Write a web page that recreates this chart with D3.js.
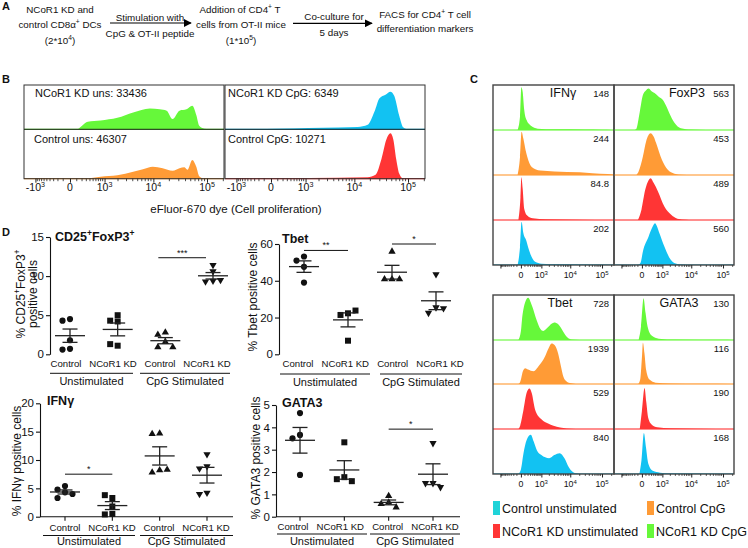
<!DOCTYPE html>
<html>
<head>
<meta charset="utf-8">
<script src="https://cdn.jsdelivr.net/npm/d3@7/dist/d3.min.js"></script>
<style>
html,body{margin:0;padding:0;background:#fff;}
svg{display:block;}
</style>
</head>
<body>
<script>
// ================= DATA =================
// Panel B : proliferation histograms, [eFluor-670 intensity, % of row height]
const bLabels = ["NCoR1 KD uns: 33436", "Control uns: 46307", "NCoR1 KD CpG: 6349", "Control CpG: 10271"];
const bNcorUns = [[120,0],[200,8],[337,17],[797,20],[1935,26],[4070,38],[8590,47],[13200,45],[17800,42],[23000,23],[30900,42],[41700,45],[53300,53],[63300,32],[71700,8],[88600,1.5],[135000,0]];
const bCtrlUns = [[285,0],[797,4],[1935,7],[4070,14],[6330,19],[9760,24],[14970,21],[23000,16],[30900,21],[38200,23],[43300,18],[53300,38],[63300,24],[71700,5],[88600,0]];
const bNcorCpG = [[-311,0],[119,1],[1170,3],[4860,4],[11600,5],[17800,10],[23900,40],[29600,70],[38200,78],[47200,85],[55800,75],[69000,30],[80800,5],[96000,0]];
const bCtrlCpG = [[-311,0],[119,1],[4860,2],[17800,3],[25000,8],[32200,40],[39900,80],[47200,92],[53300,80],[60400,40],[69000,10],[80800,0]];
const bTickValues = [-1000, 0, 1000, 10000, 100000];
const bTickLabels = [["-10", ["3"]], ["0"], ["10", ["3"]], ["10", ["4"]], ["10", ["5"]]];

// Panel C : marker histograms, rows top->bottom
const cRowNames = ["NCoR1 KD CpG", "Control CpG", "NCoR1 KD unstimulated", "Control unstimulated"];
const cMarkers = ["IFNγ", "FoxP3", "Tbet", "GATA3"];
const ifngMFI  = ["148", "244", "84.8", "202"];
const foxp3MFI = ["563", "453", "489", "560"];
const tbetMFI  = ["728", "1939", "529", "840"];
const gata3MFI = ["130", "116", "190", "168"];

const ifngGreen  = [[-80,0],[-20,30],[10,95],[40,85],[80,45],[150,22],[300,10],[700,3],[3000,1.5],[30000,1],[100000,0.5],[200000,0]];
const ifngOrange = [[-80,0],[-20,40],[15,96],[60,80],[120,55],[170,41],[350,18],[900,10],[3000,8],[20000,6],[50000,4],[150000,2],[220000,1]];
const ifngRed    = [[-60,0],[-10,50],[10,95],[40,70],[80,25],[170,10],[400,4],[1500,1.5],[20000,0.5],[200000,0]];
const ifngBlue   = [[-80,0],[-20,40],[15,96],[60,70],[137,55],[200,40],[280,26],[530,7],[1000,3],[5000,1.5],[50000,0.5],[200000,0]];

const foxGreen  = [[-200,0],[-150,2],[-50,40],[22,78],[100,88],[182,92],[300,86],[442,82],[700,74],[1030,67],[1500,50],[1830,38],[2790,16],[4560,4],[10000,1],[30000,0]];
const foxOrange = [[-150,0],[-80,8],[22,41],[107,75],[257,93],[400,85],[530,71],[956,34],[1590,12],[2790,3],[5000,0.5],[10000,0]];
const foxRed    = [[-100,0],[-10,23],[80,67],[180,88],[257,93],[400,82],[640,64],[1200,30],[2100,12],[3500,3],[7000,0.5],[10000,0]];
const foxBlue   = [[-100,0],[-30,5],[22,30],[182,63],[355,86],[470,93],[560,88],[760,70],[1200,41],[2100,11],[3500,2],[7000,0]];

const tbetGreen  = [[-60,0],[0,20],[22,43],[100,82],[204,94],[350,78],[640,43],[900,25],[1190,20],[1700,27],[2400,36],[3100,39],[4200,34],[6000,18],[8000,6],[11000,1],[20000,0]];
const tbetOrange = [[-60,0],[-15,5],[50,30],[107,36],[200,33],[437,29],[800,42],[1370,62],[1900,82],[2400,92],[3100,88],[4000,70],[5000,40],[5970,17],[7500,6],[9630,2],[15000,0]];
const tbetRed    = [[-60,0],[-15,8],[61,43],[150,80],[252,90],[350,80],[530,43],[1030,21],[1800,12],[2790,7],[7700,1],[15000,0]];
const tbetBlue   = [[-60,0],[0,10],[61,46],[150,75],[311,87],[450,72],[640,53],[1000,42],[1970,35],[3000,42],[4540,46],[6500,35],[9000,15],[13800,2],[20000,0]];

const gataGreen  = [[-80,0],[-20,30],[38,93],[90,60],[150,30],[300,10],[700,3],[3000,1],[100000,0.3],[200000,0]];
const gataOrange = [[-90,0],[-40,10],[0,60],[22,94],[60,70],[107,32],[218,10],[500,3],[2000,1],[20000,0.3],[200000,0]];
const gataRed    = [[-50,0],[0,40],[63,91],[110,60],[170,25],[300,10],[600,4],[2000,1.5],[20000,0.5],[200000,0]];
const gataBlue   = [[-60,0],[-10,30],[46,91],[100,60],[170,24],[355,7],[800,3],[3000,1],[200000,0]];

const cTickValues = [0, 1000, 10000, 100000];
const cTickLabels = [["0"], ["10", ["3"]], ["10", ["4"]], ["10", ["5"]]];
const legendNames = ["Control unstimulated", "Control CpG", "NCoR1 KD unstimulated", "NCoR1 KD CpG"];

// Panel D : % positive cells, groups = Control/NCoR1 KD unstimulated, Control/NCoR1 KD CpG
const dGroups = ["Control", "NCoR1 KD", "Control", "NCoR1 KD"];
const dConditions = ["Unstimulated", "CpG Stimulated"];
const cd25Values = [[4.5,4.3,1.8,0.7,0.6],[5.0,4.3,4.2,1.1,1.3],[2.8,2.5,1.6,0.9,0.9],[11.4,10.6,9.4,9.3,9.5]];
const tbetValues = [[53.2,51,47.6,39],[22.3,21.4,23.8,7.4],[55.9,40.9,40.9,40.9],[43.5,25.5,22.5,25]];
const ifngValues = [[5.4,4.8,4.3,4.0,3.3],[3.3,3.8,1.8,0.5,0.4],[14.7,14.6,8.2,7.8,8.3],[11,8.9,8.5,4.2,4.0]];
const gata3Values = [[4.64,3.66,3.51,1.87],[3.33,1.77,1.68,1.59],[0.93,0.64,0.57,0.42],[3.29,1.5,1.5,1.32]];
const cd25Sig = [{a:2, b:3, v:12.35, s:"***"}];
const tbetSig = [{a:0, b:1, v:56.5, s:"**"}, {a:2, b:3, v:60, s:"*"}];
const ifngSig = [{a:0, b:1, v:7.5, s:"*"}];
const gata3Sig = [{a:2, b:3, v:3.92, s:"*"}];

// ================= STYLE =================
const FONT = "'Liberation Sans', Arial, Helvetica, sans-serif";
const GREEN = "#66f83a", ORANGE = "#ff9b36", RED = "#ff3535", BLUE = "#12c2f2", CYAN = "#1fd3d8";
const INK = "#111";

const svg = d3.select("body").append("svg")
  .attr("width", 748).attr("height", 548)
  .style("font-family", FONT);
const defs = svg.append("defs");

function rich(parent, parts, size, attrs) {
  const t = parent.append("text").attr("font-size", size + "px").attr("fill", INK);
  for (const k in attrs) t.attr(k, attrs[k]);
  let up = false;
  parts.forEach(p => {
    const isSup = typeof p !== "string";
    const str = isSup ? p[0] : p;
    const ts = t.append("tspan").text(str);
    if (isSup) {
      ts.attr("font-size", (size * 0.68) + "px");
      if (!up) { ts.attr("dy", -size * 0.4); up = true; }
    } else if (up) { ts.attr("dy", size * 0.4); up = false; }
  });
  return t;
}

// ================= PANEL A =================
const gA = svg.append("g");
rich(gA, ["A"], 11, {x: 2, y: 10, "font-weight": "bold"});
defs.append("marker").attr("id", "arr").attr("viewBox", "0 0 10 10")
  .attr("refX", 9).attr("refY", 5).attr("markerWidth", 8).attr("markerHeight", 8)
  .attr("markerUnits", "userSpaceOnUse").attr("orient", "auto")
  .append("path").attr("d", "M0,0L10,5L0,10Z").attr("fill", "#000");
const aFs = 9.8;
const aTexts = [
  [60, 13.3, ["NCoR1 KD and"]],
  [60, 28.3, ["control CD8α", ["+"], " DCs"]],
  [60, 44, ["(2*10", ["4"], ")"]],
  [150, 20.5, ["Stimulation with"]],
  [150, 36.5, ["CpG & OT-II peptide"]],
  [240, 12.7, ["Addition of CD4", ["+"], " T"]],
  [241, 28.3, ["cells from OT-II mice"]],
  [241, 44, ["(1*10", ["5"], ")"]],
  [334, 20, ["Co-culture for"]],
  [334, 36, ["5 days"]],
  [425, 17.7, ["FACS for CD4", ["+"], " T cell"]],
  [425, 31.7, ["differentiation markers"]]
];
aTexts.forEach(d => rich(gA, d[2], aFs, {x: d[0], y: d[1], "text-anchor": "middle"}));
[[110, 191, 23], [293, 372, 23.3]].forEach(a => {
  gA.append("line").attr("x1", a[0]).attr("x2", a[1]).attr("y1", a[2]).attr("y2", a[2])
    .attr("stroke", "#000").attr("stroke-width", 1.2).attr("marker-end", "url(#arr)");
});

// ================= PANEL B =================
const gB = svg.append("g");
rich(gB, ["B"], 11, {x: 2, y: 83, "font-weight": "bold"});
const bx = d3.scaleSymlog().constant(300).domain([-1810, 205800]).range([0, 200]);
const bBoxes = [{x: 24, top: bNcorUns, bot: bCtrlUns, tc: GREEN, bc: ORANGE, tl: bLabels[0], bl: bLabels[1]},
                {x: 225, top: bNcorCpG, bot: bCtrlCpG, tc: BLUE, bc: RED, tl: bLabels[2], bl: bLabels[3]}];
const bRows = [[85, 129.3], [129.3, 178.7]];
const bMinor = [].concat(
  d3.range(-900, 0, 100), d3.range(100, 1000, 100),
  d3.range(2000, 10000, 1000), d3.range(20000, 100000, 10000), [200000]);

function histArea(xs, r0, r1) {
  return d3.area().curve(d3.curveMonotoneX)
    .x(d => xs(d[0])).y0(r1).y1(d => r1 - d[1] / 100 * (r1 - r0));
}

bBoxes.forEach((bb, i) => {
  const g = gB.append("g").attr("transform", `translate(${bb.x},0)`);
  [[bb.top, bb.tc, bRows[0]], [bb.bot, bb.bc, bRows[1]]].forEach(h => {
    g.append("path").datum(h[0]).attr("d", histArea(bx, h[2][0], h[2][1])).attr("fill", h[1]);
    g.append("line").attr("x1", 0).attr("x2", 200).attr("y1", h[2][1]).attr("y2", h[2][1])
      .attr("stroke", h[1]).attr("stroke-width", 1.2);
  });
  g.append("rect").attr("x", 0).attr("y", 85).attr("width", 200).attr("height", 93.7)
    .attr("fill", "none").attr("stroke", "#333").attr("stroke-width", 1);
  g.append("line").attr("x1", 0).attr("x2", 200).attr("y1", 129.3).attr("y2", 129.3)
    .attr("stroke", "#222").attr("stroke-width", 1);
  const ax = g.append("g").attr("transform", "translate(0,178.7)");
  ax.call(d3.axisBottom(bx).tickValues(bTickValues).tickSize(4).tickSizeOuter(0).tickFormat(""));
  ax.select(".domain").remove();
  ax.selectAll(".tick line").attr("stroke", "#222");
  ax.selectAll(".minor").data(bMinor).join("line").attr("class", "minor")
    .attr("x1", d => bx(d)).attr("x2", d => bx(d)).attr("y1", 0).attr("y2", 2.5)
    .attr("stroke", "#222").attr("stroke-width", 0.8);
  bTickValues.forEach((v, k) => {
    rich(g, bTickLabels[k], 10.5, {x: bx(v), y: 191, "text-anchor": "middle"});
  });
  rich(g, [bb.tl], 11, {x: 11 + (i ? -8 : 0), y: 96.7});
  rich(g, [bb.bl], 11, {x: 10 + (i ? -7 : 0), y: 142.7});
});
rich(gB, ["eFluor-670 dye (Cell proliferation)"], 11.5, {x: 236, y: 213, "text-anchor": "middle"});

// ================= PANEL C =================
const gC = svg.append("g");
rich(gC, ["C"], 11, {x: 470, y: 83, "font-weight": "bold"});
const cx = d3.scaleSymlog().constant(300).domain([-1917, 220000]).range([0, 120]);
const rowColors = [GREEN, ORANGE, RED, BLUE];
const cBlocks = [
  {rows: [85, 130, 175, 220, 265], cols: [
    {x: 493, w: 121, name: cMarkers[0], mfi: ifngMFI, hists: [ifngGreen, ifngOrange, ifngRed, ifngBlue], tx: 70},
    {x: 614, w: 120, name: cMarkers[1], mfi: foxp3MFI, hists: [foxGreen, foxOrange, foxRed, foxBlue], tx: 73}]},
  {rows: [295, 340, 384, 429, 474], cols: [
    {x: 493, w: 121, name: cMarkers[2], mfi: tbetMFI, hists: [tbetGreen, tbetOrange, tbetRed, tbetBlue], tx: 67},
    {x: 614, w: 120, name: cMarkers[3], mfi: gata3MFI, hists: [gataGreen, gataOrange, gataRed, gataBlue], tx: 65}]}
];
let clipN = 0;
cBlocks.forEach(block => {
  const R = block.rows;
  block.cols.forEach(col => {
    const g = gC.append("g").attr("transform", `translate(${col.x},0)`);
    const cid = "cclip" + (clipN++);
    defs.append("clipPath").attr("id", cid).append("rect")
      .attr("x", 0).attr("y", R[0]).attr("width", col.w).attr("height", R[4] - R[0]);
    const hg = g.append("g").attr("clip-path", `url(#${cid})`);
    col.hists.forEach((h, r) => {
      hg.append("path").datum(h).attr("d", histArea(cx, R[r], R[r + 1])).attr("fill", rowColors[r]);
      hg.append("line").attr("x1", 0).attr("x2", col.w).attr("y1", R[r + 1]).attr("y2", R[r + 1])
        .attr("stroke", rowColors[r]).attr("stroke-opacity", 0.75).attr("stroke-width", 1.3);
    });
    g.append("rect").attr("x", 0).attr("y", R[0]).attr("width", col.w).attr("height", R[4] - R[0])
      .attr("fill", "none").attr("stroke", "#444").attr("stroke-width", 1.4);
    rich(g, [col.name], 12.5, {x: col.tx, y: R[0] + 12, "text-anchor": "middle"});
    col.mfi.forEach((m, r) => rich(g, [m], 9.5, {x: col.w - 5, y: R[r] + 11.5, "text-anchor": "end"}));
    const ax = g.append("g").attr("transform", `translate(0,${R[4]})`);
    ax.call(d3.axisBottom(cx).tickValues([-1000].concat(cTickValues)).tickSize(3.5).tickSizeOuter(0).tickFormat(""));
    ax.select(".domain").remove();
    ax.selectAll(".tick line").attr("stroke", "#222");
    ax.selectAll(".minor").data(bMinor).join("line").attr("class", "minor")
      .attr("x1", d => cx(d)).attr("x2", d => cx(d)).attr("y1", 0).attr("y2", 2)
      .attr("stroke", "#222").attr("stroke-width", 0.7);
    cTickValues.forEach((v, k) => rich(g, cTickLabels[k], 8.8, {x: cx(v), y: R[4] + 13.3, "text-anchor": "middle"}));
  });
});
// legend
const legendColors = [CYAN, ORANGE, RED, GREEN];
const legendPos = [[493, 501], [647, 501], [493, 524], [647, 524]];
legendNames.forEach((n, i) => {
  gC.append("rect").attr("x", legendPos[i][0]).attr("y", legendPos[i][1]).attr("width", 7).attr("height", 14)
    .attr("fill", legendColors[i]);
  rich(gC, [n], 12.5, {x: legendPos[i][0] + 9, y: legendPos[i][1] + 12});
});

// ================= PANEL D =================
const gD = svg.append("g");
rich(gD, ["D"], 11, {x: 2, y: 236, "font-weight": "bold"});
const symbolTypes = [
  d3.symbol(d3.symbolCircle, 30)(),
  d3.symbol(d3.symbolSquare, 36)(),
  d3.symbol(d3.symbolTriangle, 23)(),
  d3.symbol(d3.symbolTriangle, 23)()
];

function beeswarm(vals, y, step) {
  const placed = [];
  return vals.map(v => {
    const py = y(v);
    const offs = [0, -step, step, -2 * step, 2 * step];
    let off = 0;
    for (const o of offs) {
      if (!placed.some(p => Math.abs(p.y - py) < 6 && Math.abs(p.x - o) < 6)) { off = o; break; }
    }
    placed.push({x: off, y: py});
    return off;
  });
}

function scatterPanel(cfg) {
  const g = gD.append("g");
  const y = d3.scaleLinear().domain([0, cfg.ymax]).range([cfg.y0, cfg.yTop]);
  const x = d3.scalePoint().domain(d3.range(4)).range(cfg.xr);
  const xl = d3.scalePoint().domain(d3.range(4)).range(cfg.labR);
  cfg.ylab.forEach((line, k) => {
    rich(g, line, 12, {transform: `translate(${cfg.ylabX[k]},${cfg.ylabY}) rotate(-90)`, "text-anchor": "middle"});
  });
  const ax = g.append("g").attr("transform", `translate(${cfg.ax},0)`)
    .call(d3.axisLeft(y).tickValues(cfg.ticks).tickSize(4).tickSizeOuter(0).tickPadding(2).tickFormat(d3.format("d")));
  ax.select(".domain").attr("stroke", INK).attr("stroke-width", 1.1);
  ax.selectAll(".tick line").attr("stroke", INK).attr("stroke-width", 1.1);
  ax.selectAll("text").attr("font-size", "11.5px").attr("fill", INK).style("font-family", FONT);
  if (cfg.xAxis) {
    g.append("line").attr("x1", cfg.ax).attr("x2", cfg.xEnd).attr("y1", cfg.y0).attr("y2", cfg.y0)
      .attr("stroke", INK).attr("stroke-width", 1.1);
    d3.range(4).forEach(i => g.append("line").attr("x1", x(i)).attr("x2", x(i))
      .attr("y1", cfg.y0).attr("y2", cfg.y0 + 4).attr("stroke", INK).attr("stroke-width", 1.1));
  }
  rich(g, cfg.title, 12.5, {x: cfg.titleX, y: cfg.titleY, "font-weight": "bold"});
  cfg.values.forEach((vals, gi) => {
    const offs = beeswarm(vals, y, 7.5);
    vals.forEach((v, k) => {
      g.append("path").attr("d", symbolTypes[gi])
        .attr("transform", `translate(${x(gi) + offs[k]},${y(v)})${gi === 3 ? " rotate(180)" : ""}`)
        .attr("fill", INK);
    });
    const m = d3.mean(vals), se = d3.deviation(vals) / Math.sqrt(vals.length);
    const cxm = x(gi);
    const ln = (x1, x2, y1, y2) => g.append("line").attr("x1", x1).attr("x2", x2).attr("y1", y1).attr("y2", y2)
      .attr("stroke", "#222").attr("stroke-width", 1.3);
    ln(cxm - 15, cxm + 15, y(m), y(m));
    ln(cxm, cxm, y(m + se), y(m - se));
    ln(cxm - 7.5, cxm + 7.5, y(m + se), y(m + se));
    ln(cxm - 7.5, cxm + 7.5, y(m - se), y(m - se));
    rich(g, [dGroups[gi]], 9.6, {x: xl(gi), y: cfg.labY, "text-anchor": "middle"});
  });
  cfg.ul.forEach((u, k) => {
    g.append("line").attr("x1", u[0]).attr("x2", u[1]).attr("y1", cfg.ulY).attr("y2", cfg.ulY)
      .attr("stroke", INK).attr("stroke-width", 1);
    rich(g, [dConditions[k]], 11, {x: (u[0] + u[1]) / 2, y: cfg.grpY, "text-anchor": "middle"});
  });
  cfg.sig.forEach(s => {
    const xa = x(s.a) + (cfg.sigShift || 0), xb = x(s.b) + (cfg.sigShift || 0);
    g.append("line").attr("x1", xa).attr("x2", xb).attr("y1", y(s.v)).attr("y2", y(s.v))
      .attr("stroke", INK).attr("stroke-width", 1);
    rich(g, [s.s], 9, {x: (xa + xb) / 2, y: y(s.v) - 2, "text-anchor": "middle"});
  });
}

scatterPanel({values: cd25Values, sig: cd25Sig, sigShift: -7, ax: 50, y0: 354.3, yTop: 237, ymax: 15, ticks: [0, 5, 10, 15],
  xr: [70, 213], labR: [66, 207], labY: 367, ul: [[50, 133], [140, 230]], ulY: 373.3, grpY: 385,
  title: ["CD25", ["+"], "FoxP3", ["+"]], titleX: 55, titleY: 240.7,
  ylab: [["% CD25", ["+"], "FoxP3", ["+"]], ["positive cells"]], ylabX: [25, 37], ylabY: 294, xAxis: false});
scatterPanel({values: tbetValues, sig: tbetSig, ax: 279, y0: 354.3, yTop: 244, ymax: 60, ticks: [0, 20, 40, 60],
  xr: [304, 436], labR: [298, 440], labY: 367, ul: [[280, 370], [380, 462]], ulY: 374, grpY: 386,
  title: ["Tbet"], titleX: 282, titleY: 242.5,
  ylab: [["% Tbet positive cells"]], ylabX: [257], ylabY: 297, xAxis: false});
scatterPanel({values: ifngValues, sig: ifngSig, ax: 40, y0: 516.7, yTop: 403.3, ymax: 20, ticks: [0, 5, 10, 15, 20],
  xr: [65, 207], labR: [65, 206], labY: 531, ul: [[43, 135], [140, 233]], ulY: 535.5, grpY: 545,
  title: ["IFNγ"], titleX: 47, titleY: 404.5,
  ylab: [["% IFNγ positive cells"]], ylabX: [21], ylabY: 461, xAxis: true, xEnd: 233});
scatterPanel({values: gata3Values, sig: gata3Sig, ax: 276, y0: 516.7, yTop: 405, ymax: 5, ticks: [0, 1, 2, 3, 4, 5],
  xr: [300, 433], labR: [293, 435], labY: 529.5, ul: [[277, 367], [370, 460]], ulY: 534, grpY: 545,
  title: ["GATA3"], titleX: 282, titleY: 407,
  ylab: [["% GATA3 positive cells"]], ylabX: [260], ylabY: 458, xAxis: true, xEnd: 460});
</script>
</body>
</html>
